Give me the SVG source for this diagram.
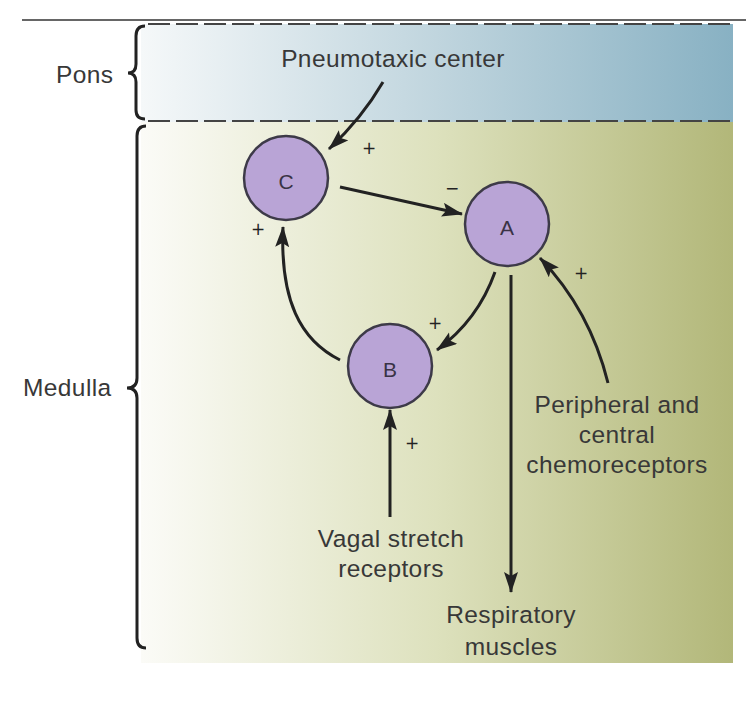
<svg xmlns="http://www.w3.org/2000/svg" width="746" height="716" viewBox="0 0 746 716">
<defs>
<linearGradient id="gPons" x1="0" y1="0" x2="1" y2="0">
<stop offset="0" stop-color="#f5f8f9"/>
<stop offset="0.5" stop-color="#c0d5de"/>
<stop offset="1" stop-color="#88b1c3"/>
</linearGradient>
<linearGradient id="gMed" x1="0" y1="0" x2="1" y2="0">
<stop offset="0" stop-color="#fbfbf7"/>
<stop offset="0.5" stop-color="#dde1bd"/>
<stop offset="1" stop-color="#b2b779"/>
</linearGradient>
<marker id="ah" markerUnits="userSpaceOnUse" markerWidth="22" markerHeight="15" refX="20" refY="7" orient="auto">
<path d="M0,0 L21,7 L0,14 L4,7 z" fill="#222"/>
</marker>
<style>
.lbl{font-family:"Liberation Sans",Arial,sans-serif;font-size:24.5px;fill:#383838;letter-spacing:0.4px}
.node text{font-family:"Liberation Sans",Arial,sans-serif;font-size:21px;fill:#3a3345;text-anchor:middle}
.node circle{fill:#b9a4d6;stroke:#3d3a48;stroke-width:2.5}
.sign{font-family:"DejaVu Sans",sans-serif;font-size:17px;fill:#222;text-anchor:middle}
.conn{fill:none;stroke:#222;stroke-width:3;marker-end:url(#ah)}
.brace{fill:none;stroke:#222;stroke-width:3}
.dash{stroke:#444;stroke-width:2;stroke-dasharray:22 6}
</style>
</defs>
<rect width="746" height="716" fill="#ffffff"/>
<g id="regions">
<rect x="141" y="24" width="592" height="98" fill="url(#gPons)"/>
<rect x="141" y="122" width="592" height="541" fill="url(#gMed)"/>
<line x1="22" y1="20" x2="746" y2="20" stroke="#333" stroke-width="1.5"/>
<line class="dash" x1="148" y1="24" x2="733" y2="24"/>
<line class="dash" x1="148" y1="121" x2="733" y2="121"/>
<path class="brace" d="M145,26 Q136,26 136,36 L136,64 Q136,73 128,73 Q136,73 136,82 L136,110 Q136,119 145,119"/>
<path class="brace" d="M146,126 Q137,126 137,136 L137,378 Q137,388 127,388 Q137,388 137,398 L137,638 Q137,648 146,648"/>
<text class="lbl" x="56" y="83">Pons</text>
<text class="lbl" x="23" y="396">Medulla</text>
</g>
<g id="connectors">
<path class="conn" d="M383,82 Q362,118 329,149"/>
<path class="conn" d="M340,187 L462,214"/>
<path class="conn" d="M495,272 Q478,320 437,350"/>
<path class="conn" d="M340,360 C300,340 280,300 283,227"/>
<path class="conn" d="M511,275 L511,592"/>
<path class="conn" d="M608,383 Q590,310 540,258"/>
<path class="conn" d="M390,517 L390,410"/>
<text class="sign" x="369" y="154">+</text>
<text class="sign" x="452" y="194">−</text>
<text class="sign" x="435" y="329">+</text>
<text class="sign" x="258" y="235">+</text>
<text class="sign" x="581" y="279">+</text>
<text class="sign" x="412" y="449">+</text>
</g>
<g id="node-C" class="node"><circle cx="286" cy="178" r="42"/><text x="286" y="189">C</text></g>
<g id="node-A" class="node"><circle cx="507" cy="224" r="42"/><text x="507" y="235">A</text></g>
<g id="node-B" class="node"><circle cx="390" cy="366" r="42"/><text x="390" y="377">B</text></g>
<g id="label-pneumotaxic"><text class="lbl" x="393" y="67" text-anchor="middle">Pneumotaxic center</text></g>
<g id="label-chemo">
<text class="lbl" x="617" y="413" text-anchor="middle">Peripheral and</text>
<text class="lbl" x="617" y="443" text-anchor="middle">central</text>
<text class="lbl" x="617" y="473" text-anchor="middle">chemoreceptors</text>
</g>
<g id="label-vagal">
<text class="lbl" x="391" y="547" text-anchor="middle">Vagal stretch</text>
<text class="lbl" x="391" y="577" text-anchor="middle">receptors</text>
</g>
<g id="label-resp">
<text class="lbl" x="511" y="623" text-anchor="middle">Respiratory</text>
<text class="lbl" x="511" y="655" text-anchor="middle">muscles</text>
</g>
</svg>
